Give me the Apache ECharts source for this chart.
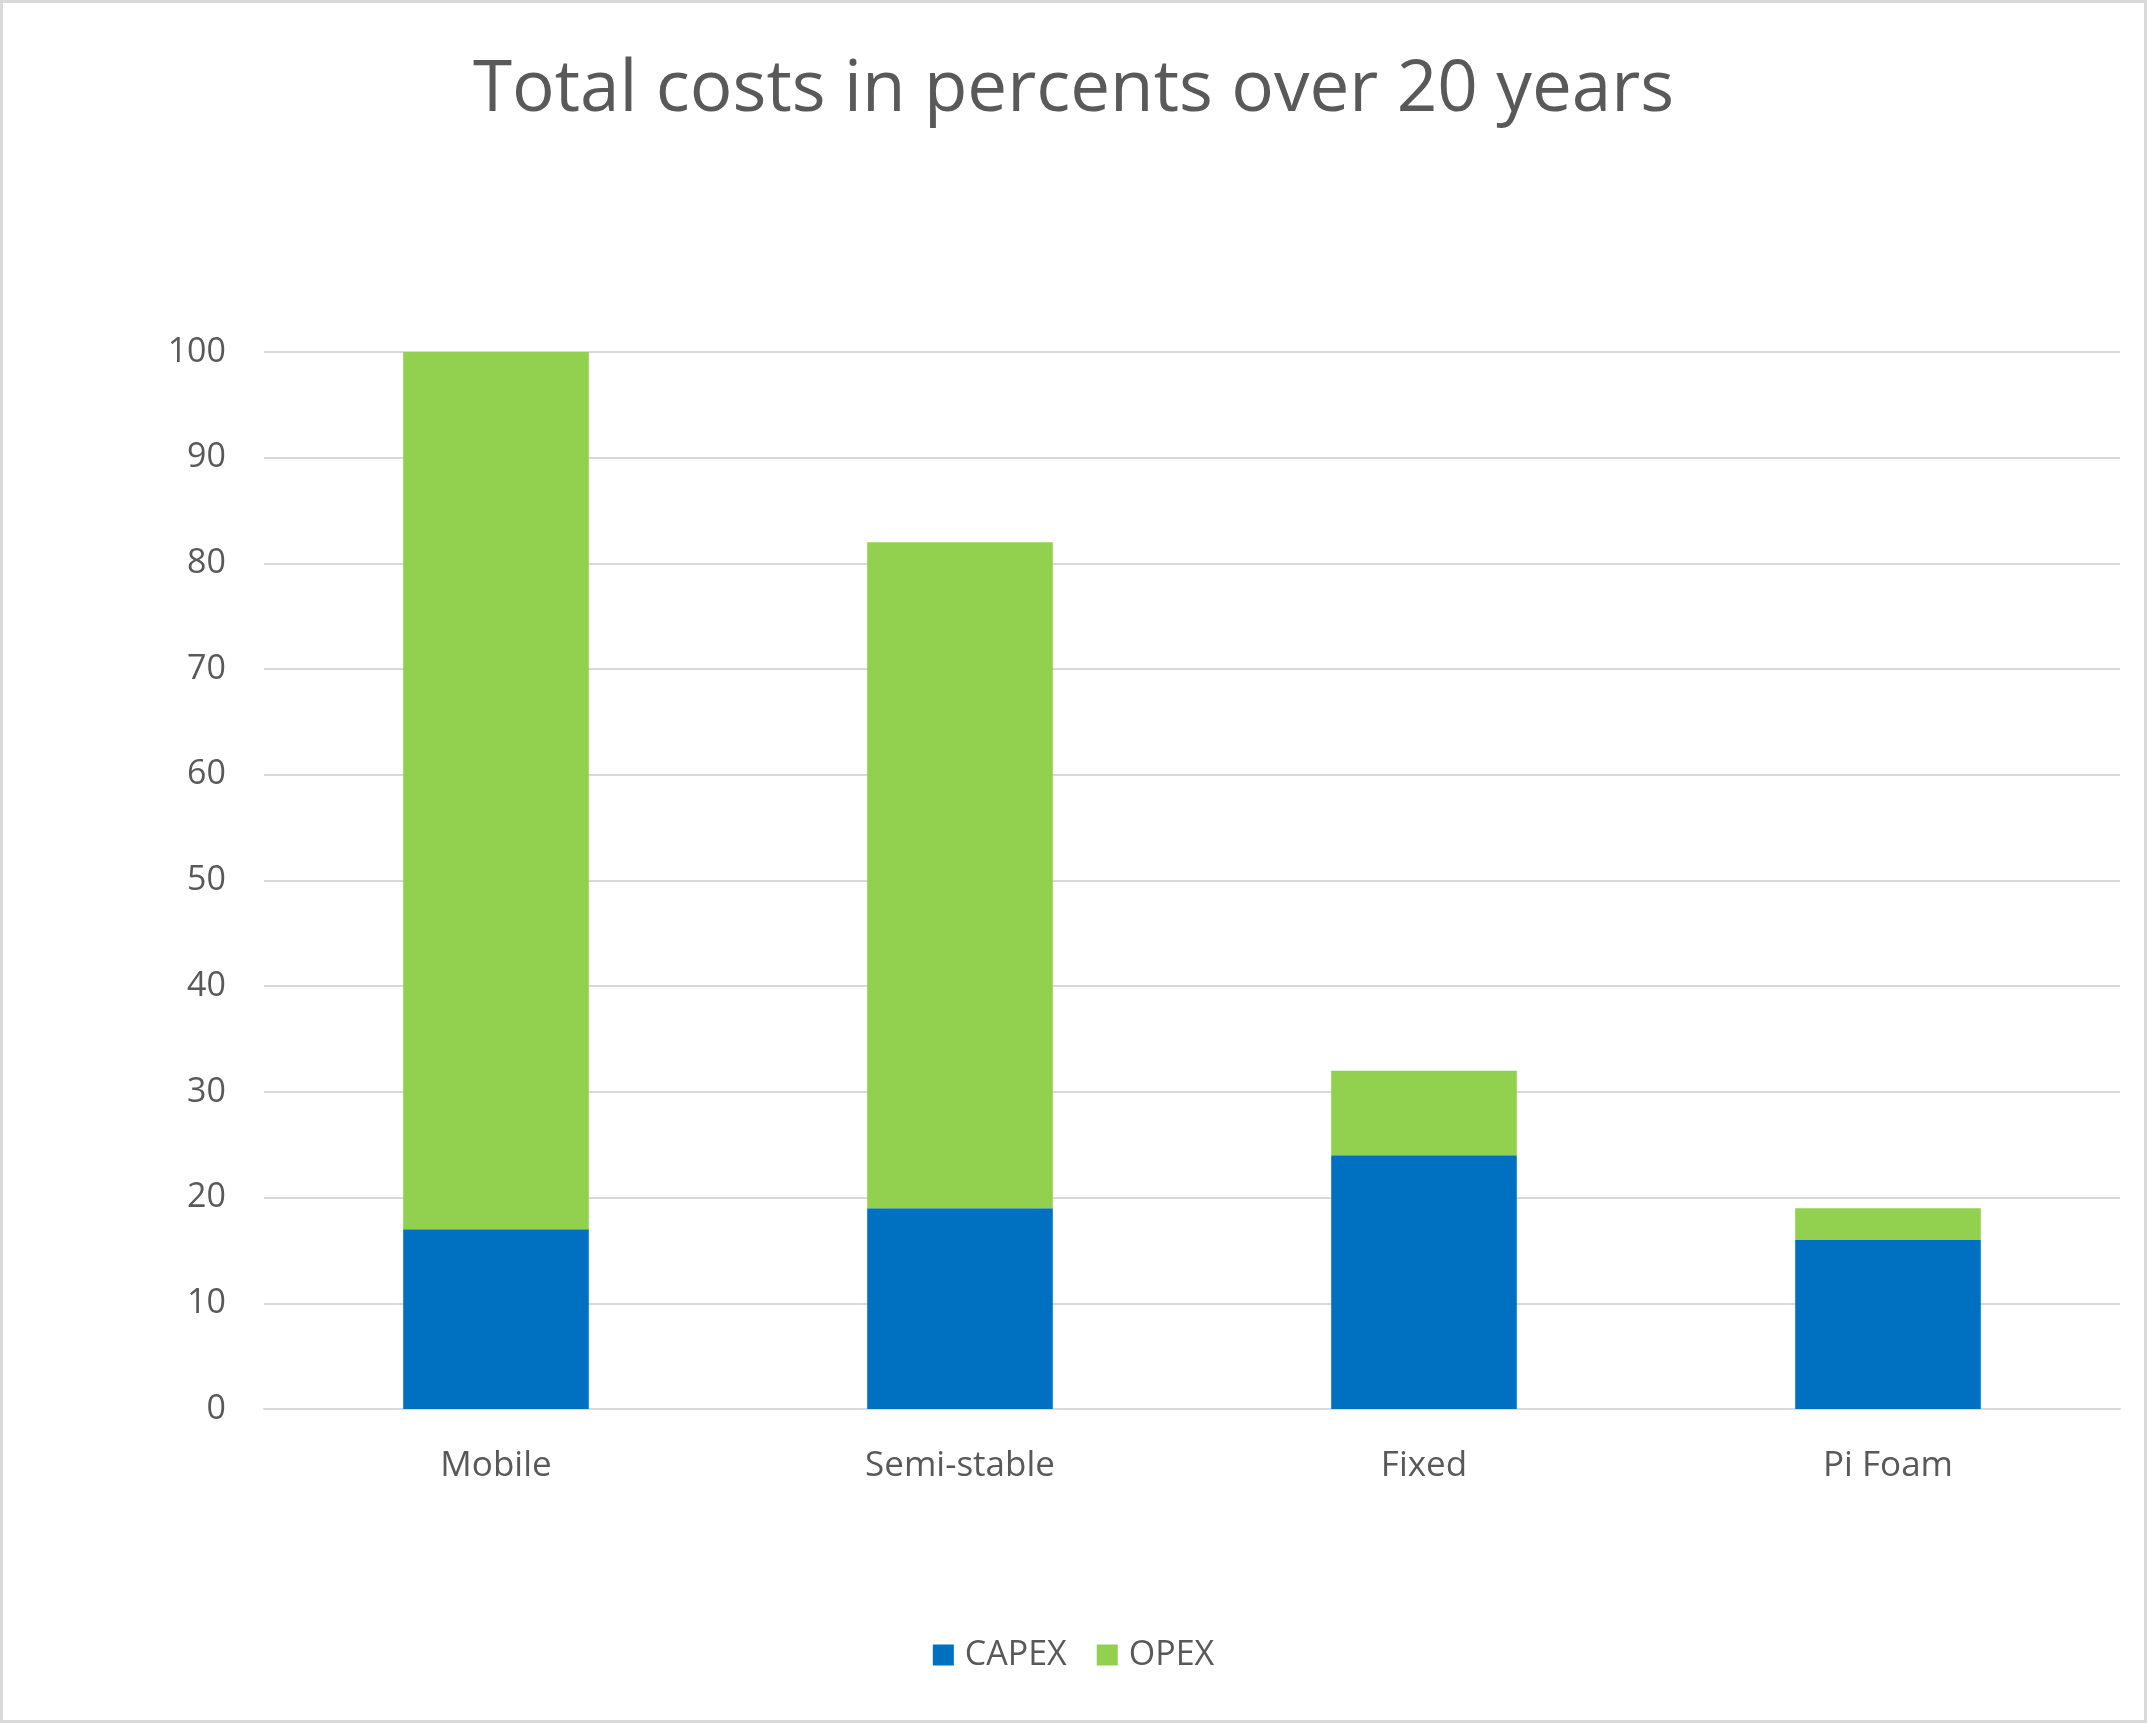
<!DOCTYPE html>
<html>
<head>
<meta charset="utf-8">
<script src="https://cdn.jsdelivr.net/npm/echarts@6/dist/echarts.min.js"></script>
<style>
html, body { margin: 0; padding: 0; background: #fff; }
#wrap { position: relative; width: 2147px; height: 1723px; }
#chart { width: 2147px; height: 1723px; }
#frame { position: absolute; left: 0; top: 0; width: 2147px; height: 1723px; box-sizing: border-box; border: 3px solid #d9d9d9; pointer-events: none; }
</style>
</head>
<body>
<div id="wrap">
<div id="chart"></div>
<div id="frame"></div>
</div>
<script>
// data
let categories = ['Mobile', 'Semi-stable', 'Fixed', 'Pi Foam'];
let capex = [17, 19, 24, 16];
let opex = [83, 63, 8, 3];
let yTicks = [0, 10, 20, 30, 40, 50, 60, 70, 80, 90, 100];

let myChart = echarts.init(document.getElementById('chart'));
let font = '"Open Sans", "Noto Sans", sans-serif';

option = {
    animation: false,
    textStyle: {fontFamily: font},
    title: {
        text: 'Total costs in percents over 20 years',
        left: 'center',
        top: 50,
        textStyle: {
            fontFamily: font,
            fontSize: 71,
            fontWeight: 'normal',
            color: '#595959'
        }
    },
    legend: {
        data: ['CAPEX', 'OPEX'],
        bottom: 46,
        left: 'center',
        itemWidth: 21,
        itemHeight: 21,
        itemGap: 30,
        icon: 'rect',
        textStyle: {fontSize: 34, color: '#595959', padding: [0, 0, 0, 6]}
    },
    grid: {
        left: 264,
        right: 27,
        top: 352,
        bottom: 1723 - 1409,
        containLabel: false
    },
    xAxis: {
        type: 'category',
        data: categories,
        axisLine: {lineStyle: {color: '#d9d9d9', width: 2}},
        axisTick: {show: false},
        axisLabel: {fontSize: 35, color: '#595959', margin: 40}
    },
    yAxis: {
        type: 'value',
        min: yTicks[0],
        max: yTicks[yTicks.length - 1],
        interval: 10,
        axisLine: {show: false},
        axisTick: {show: false},
        splitLine: {lineStyle: {color: '#d9d9d9', width: 2}},
        axisLabel: {fontSize: 34, color: '#595959', margin: 38}
    },
    series: [
        {
            name: 'CAPEX',
            type: 'bar',
            stack: 'total',
            barWidth: '40%',
            itemStyle: {color: '#0070c0'},
            data: capex
        },
        {
            name: 'OPEX',
            type: 'bar',
            stack: 'total',
            barWidth: '40%',
            itemStyle: {color: '#92d050'},
            data: opex
        }
    ]
};

myChart.setOption(option);
</script>
</body>
</html>
